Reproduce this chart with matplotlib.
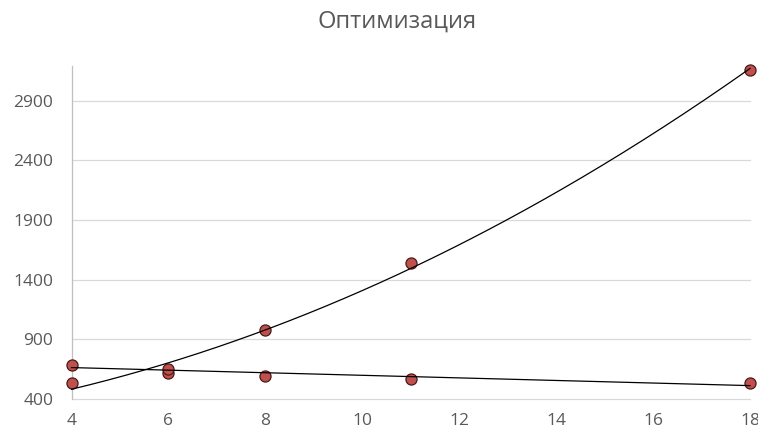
import numpy as np
import matplotlib
matplotlib.use("Agg")
import matplotlib.pyplot as plt

plt.rcParams['font.family'] = ['Open Sans', 'DejaVu Sans']

title = "Оптимизация"
x_vals = [4, 6, 8, 11, 18]
series_up = [537, 615, 975, 1540, 3160]
series_down = [685, 652, 594, 564, 530]
x_ticks = [4, 6, 8, 10, 12, 14, 16, 18]
y_ticks = [400, 900, 1400, 1900, 2400, 2900]

W, H = 758, 434
fig = plt.figure(figsize=(W / 100, H / 100), dpi=100)
ax = fig.add_axes([71.5 / W, 1 - 399 / H, (750 - 71.5) / W, (399 - 66) / H])

ax.set_xlim(4, 18)
ax.set_ylim(400, 3190)

ax.set_yticks(y_ticks)
ax.set_xticks(x_ticks)
ax.grid(axis='y', color='#D9D9D9', linewidth=0.9, zorder=0)
ax.set_axisbelow(True)
for gl in ax.get_ygridlines():
    gl.set_clip_on(False)

for s in ['top', 'right', 'bottom']:
    ax.spines[s].set_visible(False)
ax.spines['left'].set_color('#BFBFBF')
ax.spines['left'].set_linewidth(0.9)

ax.tick_params(axis='both', length=0, labelsize=12.5, colors='#595959')
ax.tick_params(axis='y', pad=13)
ax.tick_params(axis='x', pad=10)

xs = np.array(x_vals, dtype=float)
xf = np.linspace(4, 18, 300)

mk = dict(marker='o', markersize=8, markerfacecolor='#C0504D',
          markeredgecolor='#4A1A19', markeredgewidth=0.9, linestyle='none',
          zorder=3, clip_on=False)
ax.plot(x_vals, series_up, **mk)
ax.plot(x_vals, series_down, **mk)

p2 = np.polyfit(xs, series_up, 2)
ax.plot(xf, np.polyval(p2, xf), color='black', linewidth=0.9, zorder=4, clip_on=False)
p1 = np.polyfit(xs, series_down, 1)
ax.plot(xf, np.polyval(p1, xf), color='black', linewidth=0.9, zorder=4, clip_on=False)

fig.text(397 / W, 1 - 22 / H, title, ha='center', va='center',
         fontsize=17, color='#595959')

fig.savefig('out.png', dpi=100)
